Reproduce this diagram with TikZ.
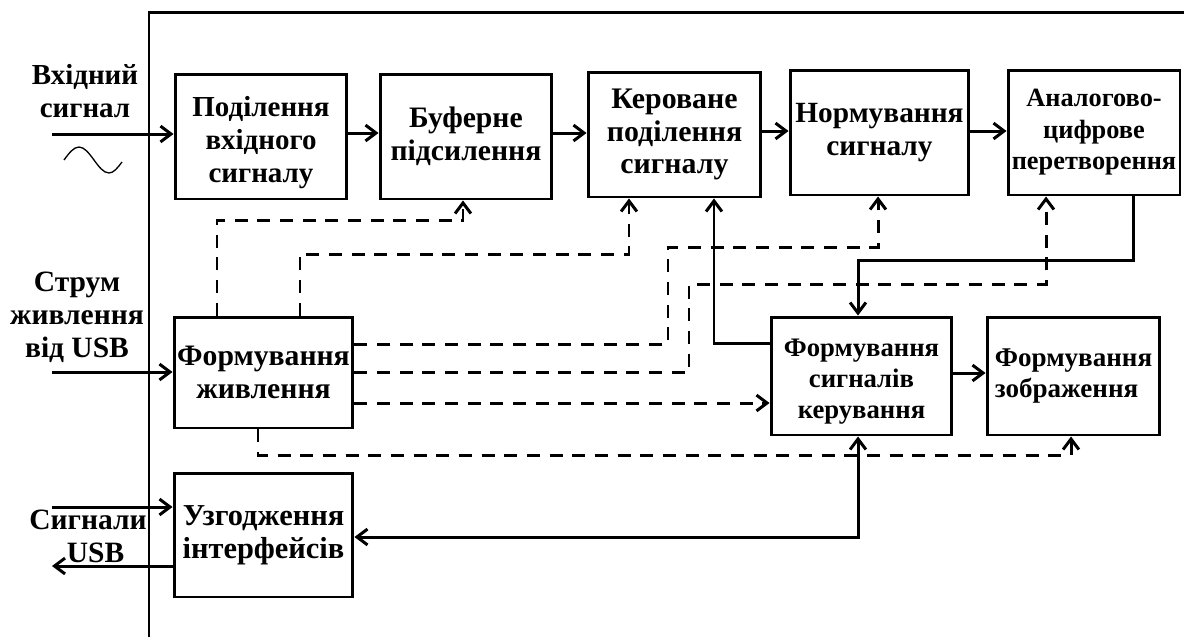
\documentclass[tikz,border=0pt]{standalone}
\usepackage{fontspec}
\setmainfont{Liberation Serif}
\usetikzlibrary{arrows.meta}
\newcommand{\fsz}[2]{\bfseries\fontsize{#1}{#2}\selectfont}
\begin{document}
\begin{tikzpicture}[x=0.02cm,y=-0.02cm,
  line width=1.7pt,
  >={Straight Barb[length=6pt,width=9pt,line width=1.7pt]},
  txt/.style={font=\fsz{16.5}{18.7}, align=center, inner sep=0pt},
  box/.style={txt, draw, line width=1.7pt},
  dsh/.style={dash pattern=on 7.4pt off 5.5pt}]
\useasboundingbox (0,0) rectangle (1184,637);
% frame
\draw (149,637) -- (149,12) -- (1190,12);
% boxes
\node[box, minimum width=3.44cm, minimum height=2.50cm] (b1) at (261,136.5) {};
\node[txt, font=\fsz{16.5}{18.7}] (b1t) at ([yshift=-0.12cm]b1.center) {Поділення\\вхідного\\сигналу};
\node[box, font=\fsz{16.9}{18.7}, minimum width=3.44cm, minimum height=2.50cm] (b2) at (466,136.5) {Буферне\\підсилення};
\node[box, font=\fsz{17}{18.7}, minimum width=3.46cm, minimum height=2.50cm] (b3) at (674.5,134.5) {Кероване\\поділення\\сигналу};
\node[box, font=\fsz{16.7}{18.7}, minimum width=3.58cm, minimum height=2.50cm] (b4) at (879.5,132.5) {Нормування\\сигналу};
\node[box, font=\fsz{15}{17.9}, minimum width=3.44cm, minimum height=2.50cm] (b5) at (1094,132.5) {Аналогово-\\цифрове\\перетворення};
\node[box, font=\fsz{16.9}{18.7}, minimum width=3.58cm, minimum height=2.22cm] (b6) at (263.5,372.5) {Формування\\живлення};
\node[box, font=\fsz{17.3}{18.7}, minimum width=3.58cm, minimum height=2.48cm] (b7) at (263.5,535) {Узгодження\\інтерфейсів};
\node[box, minimum width=3.62cm, minimum height=2.36cm] (b8) at (861.5,376) {};
\node[txt, font=\fsz{15.2}{17.6}] (b8t) at ([yshift=-0.12cm]b8.center) {Формування\\сигналів\\керування};
\node[box, font=\fsz{15.4}{17.6}, minimum width=3.46cm, minimum height=2.36cm, align=left] (b9) at (1073.5,376) {Формування\\зображення};
% outside labels
\node[txt, font=\fsz{16.5}{18.7}] (l1) at (85,91) {Вхідний\\сигнал};
\node[txt, font=\fsz{16.8}{18.7}] (l2) at (77,317) {Струм\\живлення\\від USB};
\node[txt, font=\fsz{16.8}{18.7}] (l3) at (88,536) {Сигнали\\\hspace*{0.3cm}USB};
% sine
\draw[line width=0.75pt] (64,160) sin (79,147) cos (94,160) sin (109,173) cos (122,162);
% input coordinates
\coordinate (inSig) at (52,134);
\coordinate (inPow) at (52,372);
\coordinate (inUsb) at (52,507);
\coordinate (outUsb) at (52,566);
\draw[->] (inSig) -- (b1.west |- inSig);
\draw[->] (inPow) -- (b6.west |- inPow);
\draw[->] (inUsb) -- (b7.west |- inUsb);
\draw[->] (b7.west |- outUsb) -- (outUsb);
% signal chain
\draw[->] (b1.east |- 0,133) -- (b2.west |- 0,133);
\draw[->] (b2.east |- 0,133) -- (b3.west |- 0,133);
\draw[->] (b3.east |- 0,131) -- (b4.west |- 0,131);
\draw[->] (b4.east |- 0,131) -- (b5.west |- 0,131);
\draw[->] (b8.east |- 0,373) -- (b9.west |- 0,373);
% control connections
\draw[->] (b5.south -| 1133,0) |- (858,260) -- (b8.north -| 858,0);
\draw[->] (b8.west |- 0,343) -- (714,343) -- (b3.south -| 714,0);
\draw[<->] (b8.south -| 858,0) |- (b7.east |- 0,537);
% power (dashed)
\draw[->,dsh] (b6.north -| 217,0) |- (463,220) -- (b2.south -| 463,0);
\draw[->,dsh] (b6.north -| 300,0) |- (629,254) -- (b3.south -| 629,0);
\draw[->,dsh] (b6.east |- 0,344) -- (668,344) |- (878,247) -- (b4.south -| 878,0);
\draw[->,dsh] (b6.east |- 0,372) -- (689,372) |- (1046,284) -- (b5.south -| 1046,0);
\draw[->,dsh] (b6.east |- 0,403) -- (b8.west |- 0,403);
\draw[->,dsh] (b6.south -| 258,0) |- (1071,455) -- (b9.south -| 1071,0);
\end{tikzpicture}
\end{document}
